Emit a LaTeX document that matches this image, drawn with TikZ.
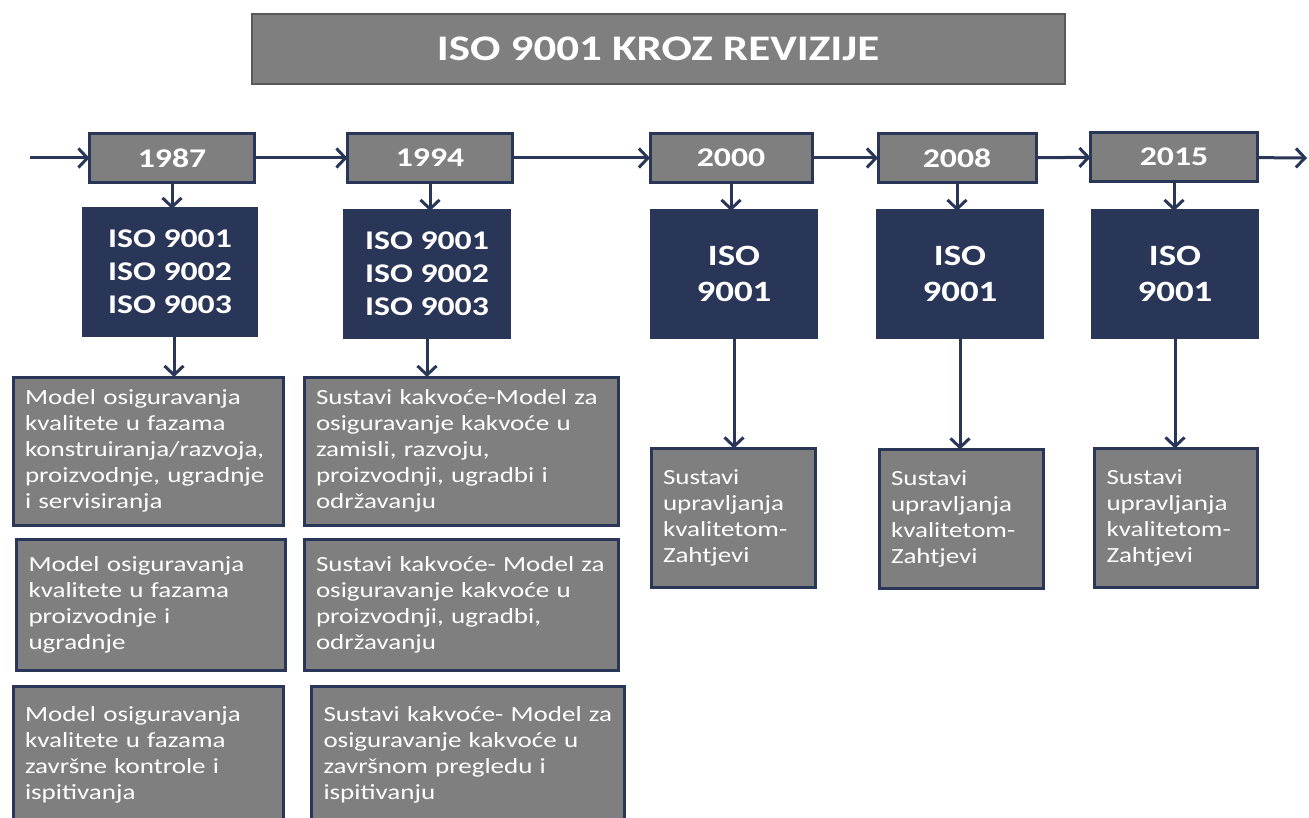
\documentclass[tikz,border=0pt]{standalone}
\usepackage{fontspec}
\setmainfont{Carlito}[FakeStretch=1.25]
\usetikzlibrary{arrows.meta}
\definecolor{navy}{RGB}{41,54,88}
\definecolor{boxgray}{RGB}{127,127,127}
\definecolor{rimgray}{RGB}{89,89,89}
\begin{document}
\begin{tikzpicture}[x=1pt,y=-1pt,inner sep=0pt,outer sep=0pt,line width=3pt,color=navy,
>={Straight Barb[length=9pt,width=19pt]},
titleblock/.style={draw=rimgray,fill=boxgray,line width=2pt,minimum width=813pt,minimum height=70pt,text=white,font=\fontsize{36}{43}\selectfont\bfseries},
yearblock/.style={draw=navy,fill=boxgray,minimum width=#1,minimum height=49pt,text=white,font=\fontsize{27}{32}\selectfont\bfseries},
yearblock/.default=165pt,
isoblock/.style={draw=navy,fill=navy,minimum width=#1,minimum height=126pt,align=center,text=white,font=\fontsize{27}{33}\selectfont\bfseries},
isoblock/.default=165pt,
isosingle/.style={isoblock,font=\fontsize{29.5}{36}\selectfont\bfseries},
descblock/.style 2 args={draw=navy,fill=boxgray,inner xsep=12pt,text width=#1,minimum height=#2,align=left,text=white,font=\fontsize{21.6}{26}\selectfont}]
\useasboundingbox (0,0) rectangle (1309,818);
\draw (658,49) node[titleblock] (title) {ISO 9001 KROZ REVIZIJE};
\coordinate (start) at (30,158);
\coordinate (end) at (1307,158);
\draw (172,158) node[yearblock] (y87) {1987};
\draw (430,158) node[yearblock] (y94) {1994};
\draw (731,158) node[yearblock=162pt] (y00) {2000};
\draw (957,158) node[yearblock=158pt] (y08) {2008};
\draw (1174,157) node[yearblock=167pt] (y15) {2015};
\draw (170,272) node[isoblock=173pt] (iso87) {ISO 9001\\ISO 9002\\ISO 9003};
\draw (427,274) node[isoblock] (iso94) {ISO 9001\\ISO 9002\\ISO 9003};
\draw (734,274) node[isosingle] (iso00) {ISO\\9001};
\draw (960,274) node[isosingle] (iso08) {ISO\\9001};
\draw (1175,274) node[isosingle] (iso15) {ISO\\9001};
\draw (148,451) node[descblock={246pt}{148pt}] (d87a) {Model osiguravanja\\kvalitete u fazama\\konstruiranja/razvoja,\\proizvodnje, ugradnje\\i servisiranja};
\draw (151,605) node[descblock={245pt}{131pt}] (d87b) {Model osiguravanja\\kvalitete u fazama\\proizvodnje i\\ugradnje};
\draw (148,755) node[descblock={246pt}{138pt}] (d87c) {Model osiguravanja\\kvalitete u fazama\\završne kontrole i\\ispitivanja};
\draw (461,451) node[descblock={290pt}{148pt}] (d94a) {Sustavi kakvoće-Model za\\osiguravanje kakvoće u\\zamisli, razvoju,\\proizvodnji, ugradbi i\\održavanju};
\draw (461,605) node[descblock={290pt}{131pt}] (d94b) {Sustavi kakvoće- Model za\\osiguravanje kakvoće u\\proizvodnji, ugradbi,\\održavanju};
\draw (468,755) node[descblock={289pt}{138pt}] (d94c) {Sustavi kakvoće- Model za\\osiguravanje kakvoće u\\završnom pregledu i\\ispitivanju};
\draw (733,518) node[descblock={140pt}{139pt}] (d00) {Sustavi\\upravljanja\\kvalitetom-\\Zahtjevi};
\draw (961,519) node[descblock={140pt}{139pt}] (d08) {Sustavi\\upravljanja\\kvalitetom-\\Zahtjevi};
\draw (1176,518) node[descblock={139pt}{139pt}] (d15) {Sustavi\\upravljanja\\kvalitetom-\\Zahtjevi};
\draw[->] (start) -- (y87);
\draw[->] (y87) -- (y94);
\draw[->] (y94) -- (y00);
\draw[->] (y00) -- (y08);
\draw[->] (y08) -- (y15);
\draw[->] (y15) -- (end);
\draw[->] (y87) -- (y87 |- iso87.north);
\draw[->] (y94) -- (y94 |- iso94.north);
\draw[->] (y00) -- (y00 |- iso00.north);
\draw[->] (y08) -- (y08 |- iso08.north);
\draw[->] (y15) -- (y15 |- iso15.north);
\draw[->] (iso87) ++(4,0) coordinate (iso87s) (iso87s |- iso87.south) -- (iso87s |- d87a.north);
\draw[->] (iso94) -- (iso94 |- d94a.north);
\draw[->] (iso00) -- (iso00 |- d00.north);
\draw[->] (iso08) -- (iso08 |- d08.north);
\draw[->] (iso15) -- (iso15 |- d15.north);
\end{tikzpicture}
\end{document}
